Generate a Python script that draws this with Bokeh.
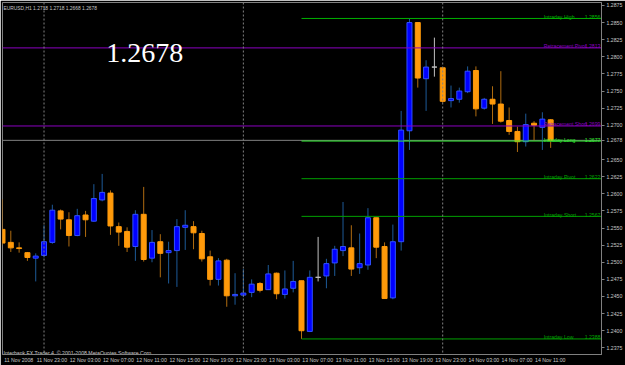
from bokeh.plotting import figure
from bokeh.models import (Range1d, LinearAxis, FixedTicker, Span,
                          ColumnDataSource, PrintfTickFormatter)
from bokeh.embed import file_html
from bokeh.resources import INLINE
from bokeh.core.properties import value

# ---------------- data ----------------
header_text = "EURUSD,H1  1.2718 1.2718 1.2668 1.2678"
copyright_text = "Interbank FX Trader 4, \u00a9 2001-2008 MetaQuotes Software Corp."
big_price_text = "1.2678"
bid_price = 1.2678

# hourly bars from 11 Nov 2008 19:00
opens = [1.2548, 1.2529, 1.2521, 1.2514, 1.2506, 1.2510, 1.2529, 1.2575, 1.2562, 1.2539,
         1.2569, 1.2560, 1.2591, 1.2601, 1.2552, 1.2545, 1.2523, 1.2570, 1.2506, 1.2530,
         1.2514, 1.2517, 1.2551, 1.2552, 1.2542, 1.2508, 1.2475, 1.2503, 1.2451, 1.2452,
         1.2456, 1.2469, 1.2460, 1.2484, 1.2453, 1.2462, 1.2473, 1.2399, 1.2478, 1.2480,
         1.2499, 1.2517, 1.2521, 1.2492, 1.2496, 1.2565, 1.2523, 1.2448, 1.2530, 1.2692,
         1.2850, 1.2768, 1.2785, 1.2784, 1.2736, 1.2738, 1.2749, 1.2780, 1.2725, 1.2738,
         1.2731, 1.2707, 1.2691, 1.2676, 1.2703, 1.2697, 1.2708]
highs = [1.2592, 1.2546, 1.2529, 1.2515, 1.2513, 1.2554, 1.2584, 1.2577, 1.2573, 1.2578,
         1.2575, 1.2614, 1.2629, 1.2605, 1.2558, 1.2551, 1.2576, 1.2610, 1.2547, 1.2541,
         1.2530, 1.2563, 1.2576, 1.2560, 1.2546, 1.2517, 1.2506, 1.2505, 1.2484, 1.2490,
         1.2475, 1.2471, 1.2496, 1.2485, 1.2488, 1.2502, 1.2473, 1.2488, 1.2537, 1.2505,
         1.2524, 1.2588, 1.2554, 1.2542, 1.2579, 1.2565, 1.2529, 1.2555, 1.2721, 1.2856,
         1.2850, 1.2795, 1.2828, 1.2784, 1.2758, 1.2755, 1.2786, 1.2786, 1.2740, 1.2757,
         1.2779, 1.2726, 1.2698, 1.2717, 1.2706, 1.2719, 1.2709]
lows = [1.2525, 1.2515, 1.2514, 1.2502, 1.2472, 1.2507, 1.2527, 1.2548, 1.2523, 1.2538,
        1.2537, 1.2559, 1.2589, 1.2540, 1.2524, 1.2515, 1.2502, 1.2501, 1.2500, 1.2478,
        1.2469, 1.2464, 1.2518, 1.2519, 1.2501, 1.2466, 1.2466, 1.2435, 1.2438, 1.2449,
        1.2449, 1.2456, 1.2460, 1.2446, 1.2447, 1.2456, 1.2388, 1.2398, 1.2472, 1.2462,
        1.2480, 1.2509, 1.2480, 1.2483, 1.2489, 1.2506, 1.2447, 1.2446, 1.2517, 1.2664,
        1.2755, 1.2721, 1.2771, 1.2733, 1.2726, 1.2733, 1.2747, 1.2713, 1.2723, 1.2702,
        1.2704, 1.2686, 1.2661, 1.2669, 1.2678, 1.2664, 1.2667]
closes = [1.2528, 1.2521, 1.2520, 1.2507, 1.2509, 1.2530, 1.2576, 1.2563, 1.2539, 1.2568,
          1.2562, 1.2593, 1.2602, 1.2553, 1.2544, 1.2522, 1.2570, 1.2504, 1.2529, 1.2513,
          1.2517, 1.2552, 1.2554, 1.2543, 1.2505, 1.2475, 1.2502, 1.2451, 1.2453, 1.2455,
          1.2468, 1.2459, 1.2483, 1.2454, 1.2461, 1.2472, 1.2400, 1.2478, 1.2478, 1.2498,
          1.2519, 1.2523, 1.2490, 1.2498, 1.2565, 1.2522, 1.2447, 1.2530, 1.2693, 1.2850,
          1.2769, 1.2785, 1.2785, 1.2735, 1.2739, 1.2750, 1.2779, 1.2724, 1.2738, 1.2731,
          1.2706, 1.2691, 1.2676, 1.2701, 1.2700, 1.2709, 1.2678]

time_tick_bars = [0, 4, 8, 12, 16, 20, 24, 28, 32, 36, 40, 44, 48, 52, 56, 60, 64]
time_tick_labels = ["11 Nov 2008", "11 Nov 23:00", "12 Nov 03:00", "12 Nov 07:00",
                    "12 Nov 11:00", "12 Nov 15:00", "12 Nov 19:00", "12 Nov 23:00",
                    "13 Nov 03:00", "13 Nov 07:00", "13 Nov 11:00", "13 Nov 15:00",
                    "13 Nov 19:00", "13 Nov 23:00", "14 Nov 03:00", "14 Nov 07:00",
                    "14 Nov 11:00"]
day_separator_bars = [5, 29, 53]

price_ticks = [1.2375, 1.2400, 1.2425, 1.2450, 1.2475, 1.2500, 1.2525, 1.2550,
               1.2575, 1.2600, 1.2625, 1.2650, 1.2678, 1.2700, 1.2725, 1.2750, 1.2775,
               1.2800, 1.2825, 1.2850, 1.2875]

level_names = ["Intraday High", "Retracement Pivot", "Retracement Short", "Intraday Long",
               "Intraday Pivot", "Intraday Short", "Intraday Low"]
level_values = [1.2856, 1.2813, 1.2699, 1.2677, 1.2622, 1.2567, 1.2388]
level_value_labels = ["1.2856", "1.2813", "1.2699", "1.2677", "1.2622", "1.2567", "1.2388"]
level_start_bars = [36, 0, 0, 36, 36, 36, 36]
level_colors = ["#00b000", "#8a00c0", "#8a00c0", "#33ee33", "#00a000", "#00a000", "#00a000"]

# ---------------- layout / style ----------------
W, H = 625, 365
BL, BR, BT, BB = 2, 22, 2, 9
BAR_PX = 25.0 / 3.0
PPY = 0.0001452
FW, FH = W - BL - BR, H - BT - BB
X0 = 0.0
X1 = X0 + FW / BAR_PX
Y1 = 1.28793
Y0 = Y1 - FH * PPY
LABEL_SHIFT = 1.95   # time labels start at their bar, so centre them a little to the right


def sxd(px):
    return X0 + (px - BL) / BAR_PX


def syd(py):
    return Y1 - (py - BT) * PPY


FONT = "Liberation Sans"
FS = "5.2px"
TXT = "#c8c8c8"
GRAY = "#808080"

UP_FILL, UP_LINE, UP_WICK = "#0000ff", "#3050ff", "#1d5a98"
DN_FILL, DN_LINE, DN_WICK = "#ff9a0a", "#ff9a0a", "#b06c10"
DOJI = "#c0c0c0"

idx = list(range(len(opens)))
fills, lines_c, wicks = [], [], []
for o, c in zip(opens, closes):
    if c > o:
        fills.append(UP_FILL); lines_c.append(UP_LINE); wicks.append(UP_WICK)
    elif c < o:
        fills.append(DN_FILL); lines_c.append(DN_LINE); wicks.append(DN_WICK)
    else:
        fills.append(DOJI); lines_c.append(DOJI); wicks.append(DOJI)

src = ColumnDataSource(dict(
    x=idx, high=highs, low=lows,
    top=[max(o, c) for o, c in zip(opens, closes)],
    bottom=[min(o, c) for o, c in zip(opens, closes)],
    fill=fills, line=lines_c, wick=wicks))

p = figure(width=W, height=H, x_range=Range1d(X0, X1), y_range=Range1d(Y0, Y1),
           output_backend="svg", toolbar_location=None,
           x_axis_location=None, y_axis_location=None,
           background_fill_color="#000000", border_fill_color="#000000",
           min_border_left=BL, min_border_right=BR, min_border_top=BT, min_border_bottom=BB)
p.xgrid.visible = False
p.ygrid.visible = False
p.outline_line_color = GRAY

# axes
yax = LinearAxis(ticker=FixedTicker(ticks=price_ticks),
                 formatter=PrintfTickFormatter(format="%.4f"),
                 axis_line_color=GRAY, major_tick_line_color=GRAY,
                 major_tick_out=3, major_tick_in=0, minor_tick_out=0, minor_tick_in=0,
                 major_label_text_color=TXT, major_label_text_font=FONT,
                 major_label_text_font_size=FS, major_label_standoff=2)
p.add_layout(yax, "right")

label_ticks = [b + LABEL_SHIFT for b in time_tick_bars]
xax = LinearAxis(ticker=FixedTicker(ticks=label_ticks),
                 major_label_overrides={t: s for t, s in zip(label_ticks, time_tick_labels)},
                 axis_line_color=GRAY, major_tick_line_color=None,
                 major_tick_out=0, major_tick_in=0, minor_tick_out=0, minor_tick_in=0,
                 major_label_text_color=TXT, major_label_text_font=FONT,
                 major_label_text_font_size=FS, major_label_standoff=2)
p.add_layout(xax, "below")

# bid line (behind)
p.add_layout(Span(location=bid_price, dimension="width", line_color=GRAY, line_width=1, level="underlay"))

# candles
p.segment(x0="x", y0="low", x1="x", y1="high", source=src, line_color="wick", line_width=1)
p.vbar(x="x", width=0.6, top="top", bottom="bottom", source=src,
       fill_color="fill", line_color="line", line_width=1)

# day separators
for b in day_separator_bars:
    p.add_layout(Span(location=b, dimension="height", line_color=GRAY,
                      line_dash="2 2", line_width=1))

# levels
for v, sb, col in zip(level_values, level_start_bars, level_colors):
    p.segment(x0=[sb if sb > 0 else X0], y0=[v], x1=[X1], y1=[v], line_color=col, line_width=1)

p.text(x=[sxd(545)] * len(level_names), y=level_values, text=level_names,
       text_color=level_colors, text_font=value(FONT), text_font_size=FS,
       text_align="left", text_baseline="alphabetic", y_offset=-1.5)
p.text(x=[sxd(602)] * len(level_names), y=level_values, text=level_value_labels,
       text_color=level_colors, text_font=value(FONT), text_font_size=FS,
       text_align="right", text_baseline="alphabetic", y_offset=-1.5)

# texts
p.text(x=[sxd(3)], y=[syd(8.5)], text=[header_text], text_color=TXT,
       text_font=value(FONT), text_font_size="4.9px", text_align="left",
       text_baseline="alphabetic")
p.text(x=[sxd(3)], y=[syd(354)], text=[copyright_text], text_color=TXT,
       text_font=value(FONT), text_font_size=FS, text_align="left",
       text_baseline="alphabetic")
p.text(x=[sxd(106)], y=[syd(53)], text=[big_price_text], text_color="#ffffff",
       text_font=value("Liberation Serif"), text_font_size="28px",
       text_align="left", text_baseline="alphabetic")

open("out.html", "w").write(file_html(p, INLINE))
